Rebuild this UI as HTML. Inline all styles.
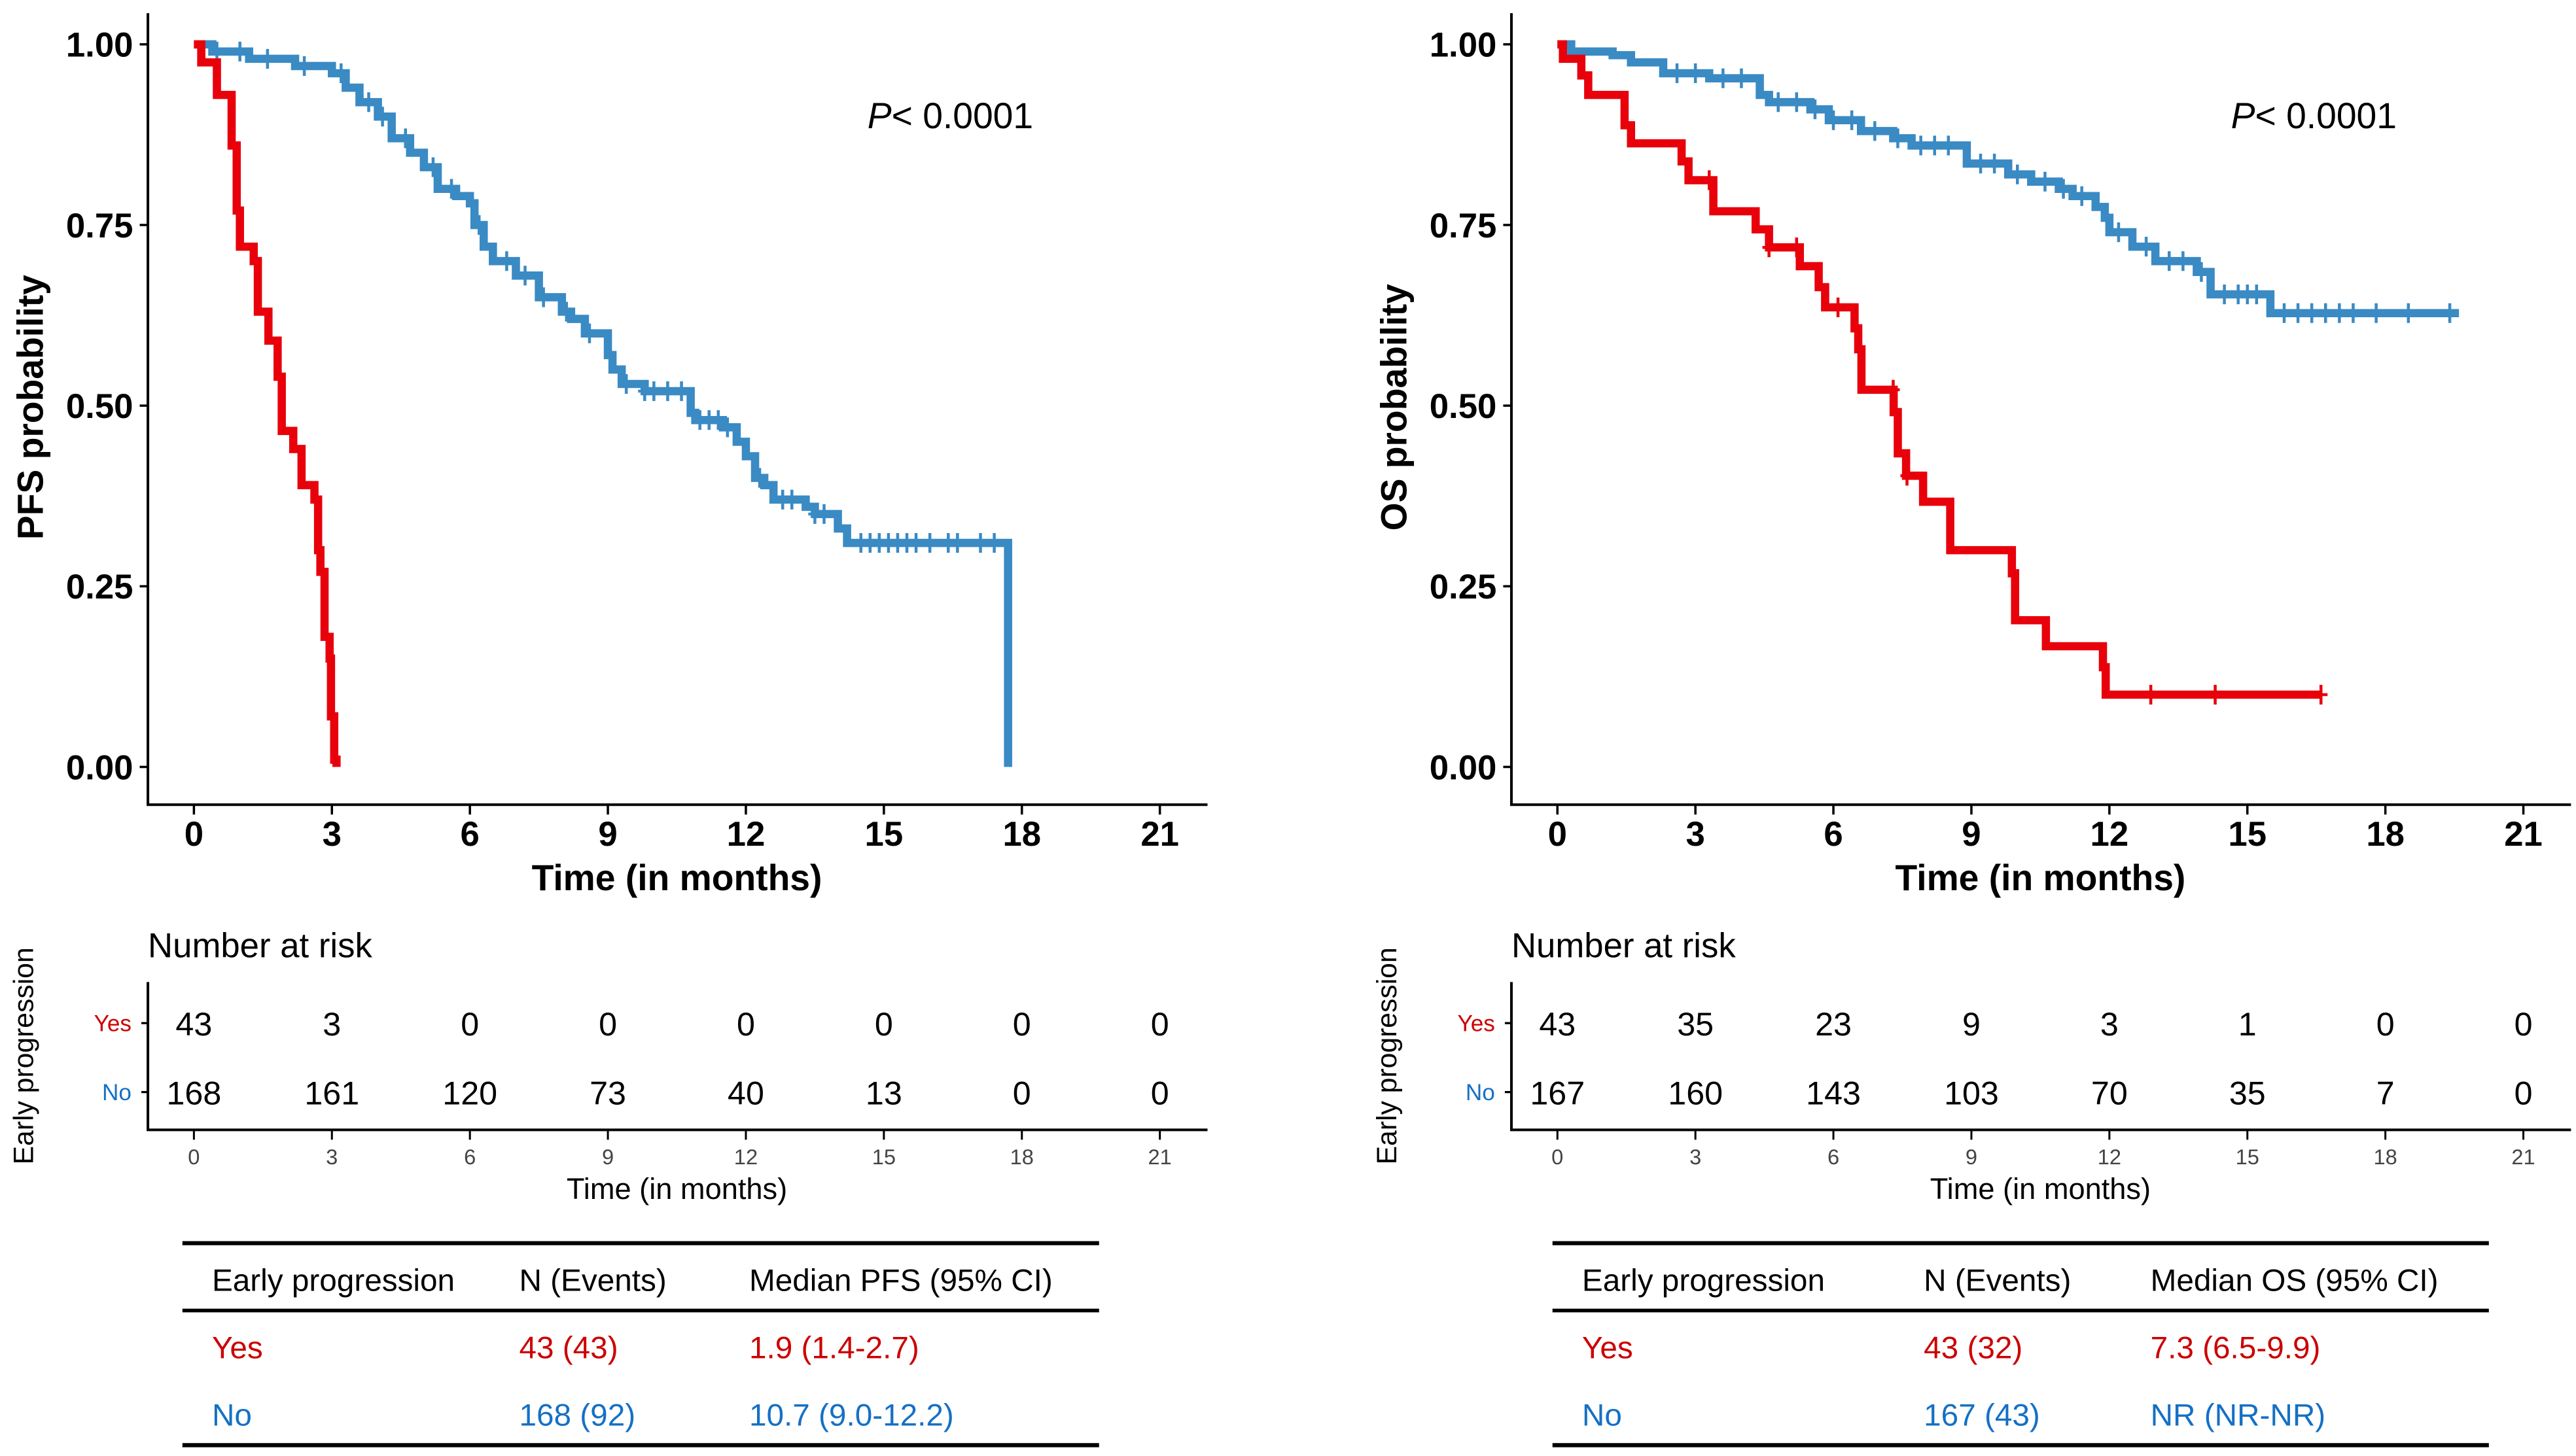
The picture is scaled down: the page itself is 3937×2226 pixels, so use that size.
<!DOCTYPE html>
<html><head><meta charset="utf-8"><style>
html,body{margin:0;padding:0;background:#fff;}
svg{display:block;font-family:"Liberation Sans",Arial,sans-serif;}
</style></head><body>
<svg id="fig" width="3937" height="2226" viewBox="0 0 1568 886.6" xmlns="http://www.w3.org/2000/svg"></svg>
<script>
// ---- data ----
const xTicks = [0,3,6,9,12,15,18,21];
const yTicks = [0,0.25,0.5,0.75,1.0];
const yTickLabels = ["0.00","0.25","0.50","0.75","1.00"];
// PFS
const pfsYesT = [0.16,0.5,0.82,0.93,1.0,1.3,1.39,1.62,1.82,1.91,2.16,2.34,2.62,2.7,2.75,2.84,2.95,2.98,3.05,3.1];
const pfsYesS = [0.975,0.93,0.86,0.77,0.72,0.70,0.63,0.59,0.54,0.465,0.44,0.39,0.37,0.30,0.27,0.18,0.15,0.07,0.01,0.0];
const pfsNoT = [0.4,1.2,2.2,3.0,3.3,3.6,4.0,4.3,4.7,5.0,5.3,5.7,6.0,6.1,6.3,6.5,7.0,7.5,8.0,8.2,8.5,9.0,9.1,9.3,9.8,10.8,10.9,11.5,11.8,12.0,12.2,12.4,12.6,13.3,13.5,14.0,14.2,17.7];
const pfsNoS = [0.99,0.98,0.97,0.96,0.94,0.92,0.90,0.87,0.85,0.83,0.80,0.79,0.78,0.75,0.72,0.70,0.68,0.65,0.63,0.62,0.60,0.57,0.55,0.53,0.52,0.49,0.48,0.47,0.45,0.43,0.40,0.39,0.37,0.36,0.35,0.33,0.31,0.0];
const pfsNoCens = [0.5,1.0,1.6,2.4,3.2,3.8,4.1,4.6,5.2,5.6,6.2,6.8,7.2,7.6,8.1,8.6,9.4,9.8,10.0,10.3,10.6,11.0,11.2,11.4,11.6,12.3,12.8,13.0,13.5,13.7,14.5,14.7,14.9,15.1,15.3,15.5,15.7,16.0,16.4,16.6,17.1,17.4];
const pfsYesCens = [];
// OS
const osYesT = [0.12,0.52,0.67,1.46,1.6,2.7,2.85,3.39,4.31,4.6,5.27,5.68,5.82,6.46,6.54,6.61,7.31,7.4,7.58,7.95,8.54,9.88,9.95,10.62,11.86,11.92];
const osYesS = [0.98,0.957,0.93,0.888,0.863,0.838,0.812,0.769,0.744,0.719,0.693,0.664,0.636,0.607,0.578,0.522,0.491,0.434,0.403,0.367,0.30,0.268,0.203,0.167,0.138,0.10];
const osYesEnd = 16.6;
const osYesCens = [3.3,4.6,5.2,6.1,7.3,7.6,12.9,14.3,16.6];
const osNoT = [0.3,1.2,1.6,2.3,3.3,4.4,4.6,5.5,5.9,6.6,7.3,7.7,8.9,9.8,10.3,10.9,11.2,11.7,11.9,12.0,12.5,13.0,13.9,14.2,15.5];
const osNoS = [0.99,0.985,0.975,0.96,0.953,0.93,0.92,0.91,0.895,0.88,0.87,0.86,0.835,0.82,0.81,0.80,0.79,0.775,0.76,0.74,0.72,0.70,0.685,0.654,0.628];
const osNoEnd = 19.6;
const osNoCens = [2.6,3.0,3.6,4.0,4.8,5.2,5.6,6.0,6.4,6.9,7.4,7.9,8.2,8.5,9.2,9.5,10.0,10.6,11.0,11.4,12.2,12.8,13.3,13.6,14.0,14.5,14.8,15.0,15.2,15.8,16.1,16.4,16.7,17.0,17.3,17.8,18.5,19.4];
// risk tables
const pfsRiskYes = [43,3,0,0,0,0,0,0];
const pfsRiskNo = [168,161,120,73,40,13,0,0];
const osRiskYes = [43,35,23,9,3,1,0,0];
const osRiskNo = [167,160,143,103,70,35,7,0];
// summary tables
const pfsSummary = [["Yes","43 (43)","1.9 (1.4-2.7)"],["No","168 (92)","10.7 (9.0-12.2)"]];
const osSummary = [["Yes","43 (32)","7.3 (6.5-9.9)"],["No","167 (43)","NR (NR-NR)"]];

const RED="#e8000b", BLUE="#3a8ac4", TRED="#cc0000", TBLUE="#1570c4";
const svg=document.getElementById('fig');
const NS="http://www.w3.org/2000/svg";
function mk(tag,attrs,parent){const e=document.createElementNS(NS,tag);for(const k in attrs)e.setAttribute(k,attrs[k]);(parent||svg).appendChild(e);return e;}
function txt(s,attrs,parent){const e=mk('text',attrs,parent);e.textContent=s;return e;}

function panel(cfg){
  const g=mk('g',{});
  
  
  const X0=cfg.x0, ppm=28, yT=27, yB=467, axL=cfg.x0-28, axR=cfg.x0+617;
  const xs=t=>X0+t*ppm, ys=s=>yB-(yB-yT)*s;
  const ax=mk('path',{d:`M${axL} 8 V490 H${axR}`,fill:'none',stroke:'#000','stroke-width':1.6},g);
  
  
  yTicks.forEach((v,i)=>{
    mk('line',{x1:axL-5,x2:axL,y1:ys(v),y2:ys(v),stroke:'#000','stroke-width':1.4},g);
    const t=txt(yTickLabels[i],{x:axL-9,y:ys(v)+7.5,'text-anchor':'end','font-size':21,'font-weight':'bold'},g);
    
    
  });
  xTicks.forEach(v=>{
    mk('line',{x1:xs(v),x2:xs(v),y1:490,y2:496,stroke:'#000','stroke-width':1.4},g);
    const t=txt(String(v),{x:xs(v),y:515,'text-anchor':'middle','font-size':21,'font-weight':'bold'},g);
    
    
  });
  const xt=txt('Time (in months)',{x:xs(10.5),y:542,'text-anchor':'middle','font-size':22,'font-weight':'bold'},g);
  
  
  const yt=txt(cfg.ylab,{x:0,y:0,'text-anchor':'middle','font-size':22,'font-weight':'bold',transform:`translate(${axL-64},248) rotate(-90)`},g);
  
  
  const pv=txt('',{x:X0+410,y:78,'font-size':22},g);
  pv.innerHTML='<tspan font-style="italic">P</tspan>&lt; 0.0001';
  
  
  function curve(T,S,end,cens,col,nm){
    let d=`M${xs(0)} ${ys(1)}`;
    T.forEach((t,i)=>{d+=` H${xs(t)} V${ys(S[i])}`;});
    if(end!=null) d+=` H${xs(end)}`;
    const p=mk('path',{d,fill:'none',stroke:col,'stroke-width':5,'stroke-linejoin':'miter'},g);
    
    
    cens.forEach(c=>{
      let s=1;T.forEach((t,i)=>{if(t<=c)s=S[i];});
      const m=mk('path',{d:`M${xs(c)} ${ys(s)-6} V${ys(s)+6} M${xs(c)-4} ${ys(s)} H${xs(c)+4}`,stroke:col,'stroke-width':1.8},g);
      
      
    });
  }
  curve(cfg.noT,cfg.noS,cfg.noEnd,cfg.noC,BLUE,'no-group');
  curve(cfg.yesT,cfg.yesS,cfg.yesEnd,cfg.yesC,RED,'yes-group');
  const nr=txt('Number at risk',{x:axL,y:583,'font-size':21},g);
  
  
  mk('path',{d:`M${axL} 598 V688 H${axR}`,fill:'none',stroke:'#000','stroke-width':1.6},g);
  const ep=txt('Early progression',{x:0,y:0,'text-anchor':'middle','font-size':17,transform:`translate(${axL-70},643) rotate(-90)`},g);
  
  
  [['Yes',623,cfg.riskYes,TRED],['No',665,cfg.riskNo,TBLUE]].forEach(r=>{
    mk('line',{x1:axL-4,x2:axL,y1:r[1],y2:r[1],stroke:'#000','stroke-width':1.3},g);
    const l=txt(r[0],{x:axL-10,y:r[1]+5,'text-anchor':'end','font-size':14,fill:r[3]},g);
    
    
    r[2].forEach((v,i)=>{
      const t=txt(String(v),{x:xs(xTicks[i]),y:r[1]+7.5,'text-anchor':'middle','font-size':20},g);
      
      
    });
  });
  xTicks.forEach(v=>{
    mk('line',{x1:xs(v),x2:xs(v),y1:688,y2:694,stroke:'#000','stroke-width':1.2},g);
    txt(String(v),{x:xs(v),y:709,'text-anchor':'middle','font-size':13,fill:'#444'},g);
  });
  const rt=txt('Time (in months)',{x:xs(10.5),y:730,'text-anchor':'middle','font-size':18},g);
  
  
  const tL=cfg.tL, tR=cfg.tR;
  [[757,2.5],[798,2.2],[880,2.5]].forEach(l=>mk('line',{x1:tL,x2:tR,y1:l[0],y2:l[0],stroke:'#000','stroke-width':l[1]},g));
  const cols=[tL+18,tL+cfg.c2,tL+cfg.c3];
  ['Early progression','N (Events)',cfg.medHead].forEach((h,i)=>{
    const t=txt(h,{x:cols[i],y:786,'font-size':19},g);
    
    
  });
  cfg.summary.forEach((row,ri)=>{
    row.forEach((c,ci)=>{
      const t=txt(c,{x:cols[ci],y:827+41*ri,'font-size':19,fill:ri===0?TRED:TBLUE},g);
      
      
    });
  });
}
panel({name:'pfs',x0:118,ylab:'PFS probability',yesT:pfsYesT,yesS:pfsYesS,yesEnd:null,yesC:pfsYesCens,
  noT:pfsNoT,noS:pfsNoS,noEnd:null,noC:pfsNoCens,riskYes:pfsRiskYes,riskNo:pfsRiskNo,
  tL:111,tR:669,c2:205,c3:345,medHead:'Median PFS (95% CI)',summary:pfsSummary});
panel({name:'os',x0:948,ylab:'OS probability',yesT:osYesT,yesS:osYesS,yesEnd:osYesEnd,yesC:osYesCens,
  noT:osNoT,noS:osNoS,noEnd:osNoEnd,noC:osNoCens,riskYes:osRiskYes,riskNo:osRiskNo,
  tL:945,tR:1515,c2:226,c3:364,medHead:'Median OS (95% CI)',summary:osSummary});
</script>
</body></html>
